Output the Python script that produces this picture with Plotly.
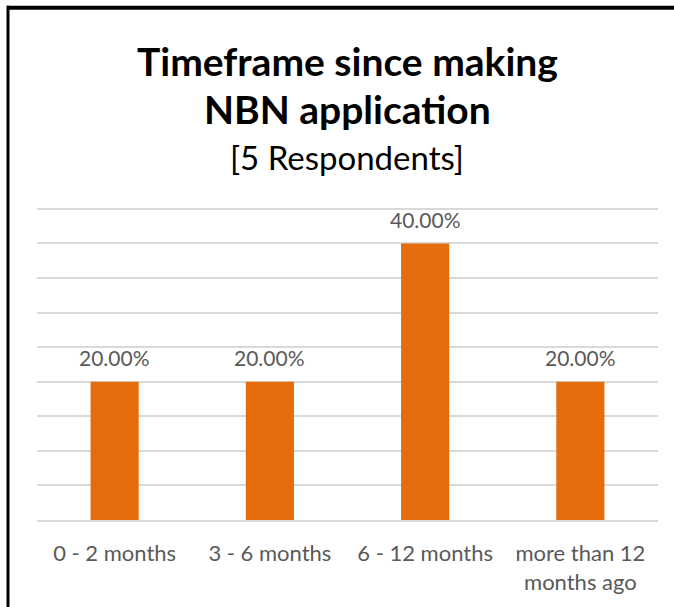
import plotly.graph_objects as go

# survey results
categories = ['0 - 2 months', '3 - 6 months', '6 - 12 months', 'more than 12<br>months ago']
shares = [0.20, 0.20, 0.40, 0.20]
title_lines = ['Timeframe since making', 'NBN application']
subtitle = '[5 Respondents]'

bar_color = '#E46C0A'
text_gray = '#595959'
font_name = 'Lato'

W, H = 674, 607
L, R, T, B = 37, 16, 202, 84
plot_h = H - T - B
plot_w = W - L - R


def py(p):
    # page pixel row -> paper y
    return (H - B - p) / plot_h


def px(p):
    # page pixel column -> paper x
    return (p - L) / plot_w


fig = go.Figure(go.Bar(
    x=categories,
    y=shares,
    marker=dict(color=bar_color, line=dict(width=0)),
    hoverinfo='skip',
))

annotations = []
for cat, val in zip(categories, shares):
    annotations.append(dict(
        x=cat, y=val, xref='x', yref='y', text='{:.2%}'.format(val),
        showarrow=False, yanchor='middle', yshift=24,
        font=dict(family=font_name, size=21, color=text_gray),
    ))

title_rows = [(title_lines[0], 60, True, 39), (title_lines[1], 108, True, 39), (subtitle, 157, False, 33)]
for txt, row, bold, size in title_rows:
    annotations.append(dict(
        text='<b>%s</b>' % txt if bold else txt,
        xref='paper', yref='paper', x=px(347), y=py(row),
        xanchor='center', yanchor='middle', showarrow=False,
        font=dict(family=font_name, size=size, color='black'),
    ))

fig.update_layout(
    width=W,
    height=H,
    autosize=False,
    paper_bgcolor='white',
    plot_bgcolor='white',
    showlegend=False,
    bargap=0.69,
    margin=dict(l=L, r=R, t=T, b=B),
    font=dict(family=font_name, color=text_gray),
    annotations=annotations,
    shapes=[
        # frame of the original chart box
        dict(type='line', xref='paper', yref='paper',
             x0=px(7), x1=px(680), y0=py(6), y1=py(6),
             line=dict(color='black', width=4)),
        dict(type='line', xref='paper', yref='paper',
             x0=px(8), x1=px(8), y0=py(4), y1=py(615),
             line=dict(color='black', width=3)),
    ],
)

# top of range a bit above 45% so the 45% gridline is drawn
fig.update_yaxes(
    range=[0, 0.46], tick0=0, dtick=0.05, showticklabels=False,
    showgrid=True, gridcolor='#D9D9D9', gridwidth=2,
    zeroline=False, showline=False, fixedrange=True,
)
fig.update_xaxes(
    showline=True, linecolor='#D9D9D9', linewidth=2,
    ticks='outside', ticklen=13, tickcolor='rgba(0,0,0,0)',
    tickfont=dict(family=font_name, size=22, color=text_gray),
    fixedrange=True,
)

fig.write_html("out.html", config={'displayModeBar': False},
               post_script="document.body.style.margin='0';")
